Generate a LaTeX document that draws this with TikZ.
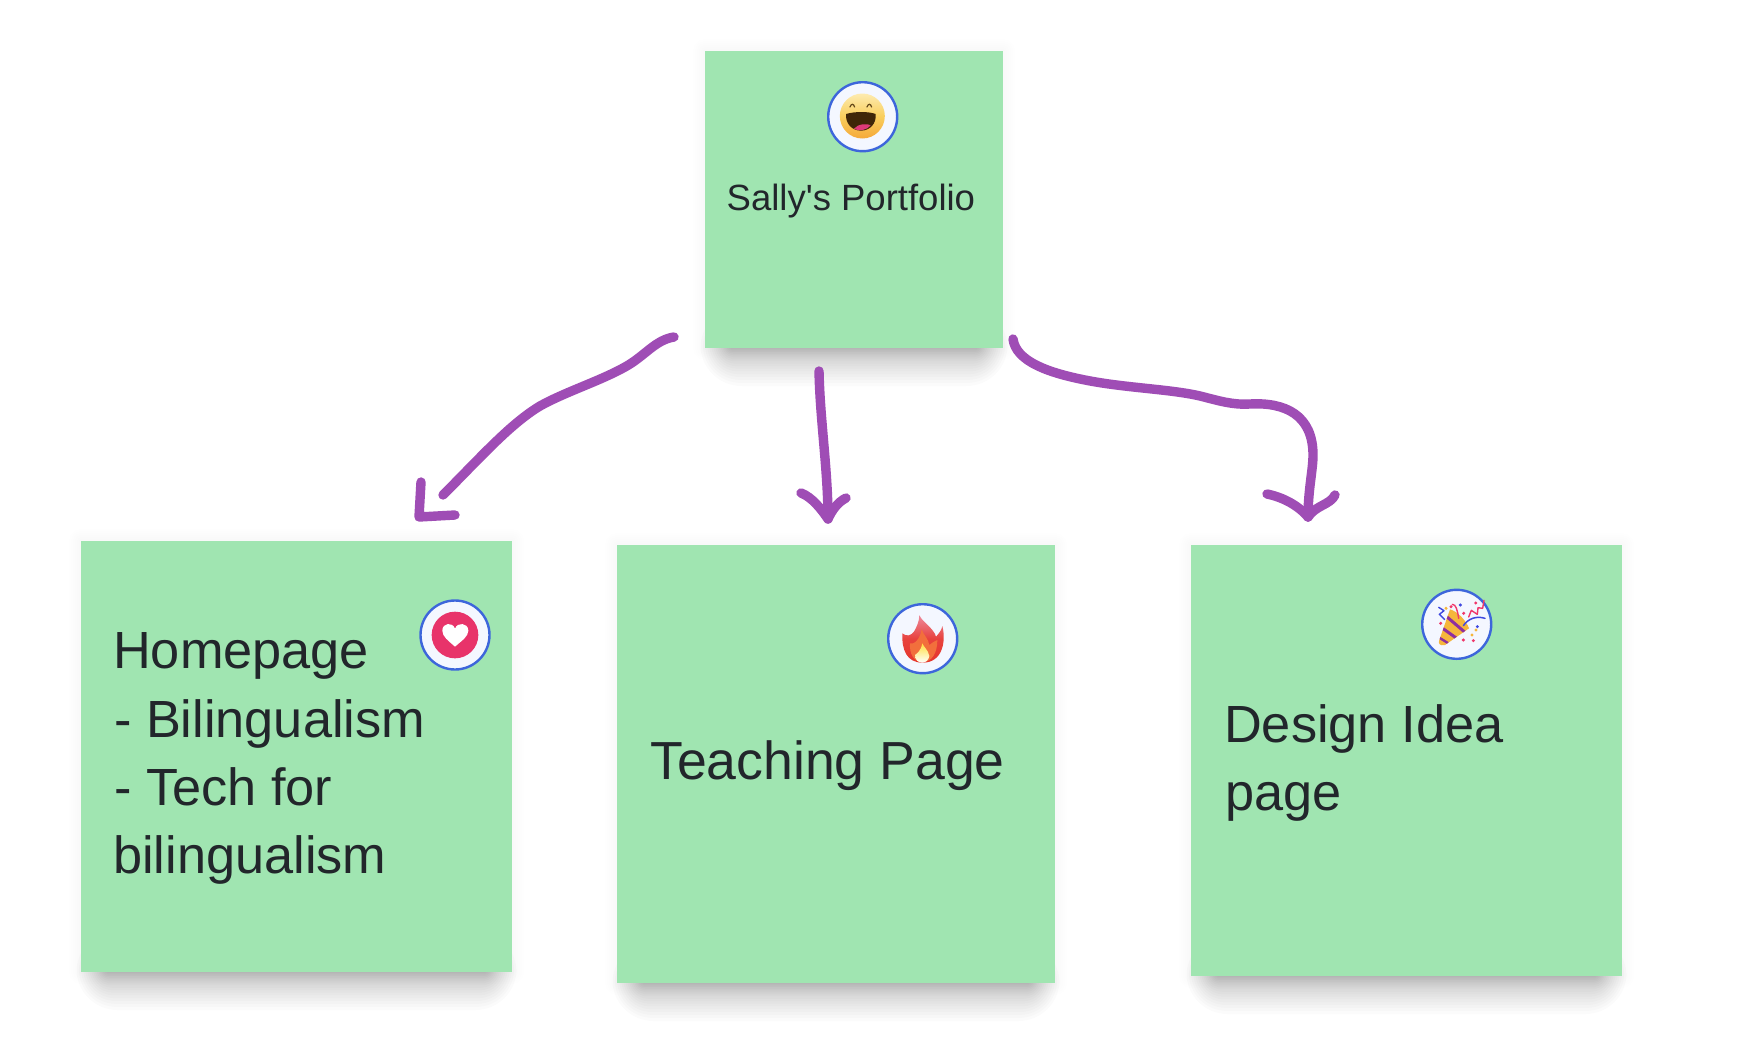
\documentclass[tikz,border=0pt]{standalone}
\usepackage{fontspec}
\setmainfont{Liberation Sans}
\usetikzlibrary{calc}
\definecolor{sticky}{HTML}{A0E5B1}
\definecolor{ink}{HTML}{22262B}
\definecolor{stroke}{HTML}{9F4DB5}
\definecolor{ring}{HTML}{3D66DB}
\definecolor{badgebg}{HTML}{F4F7FF}
\definecolor{FaceTop}{HTML}{FDEBB0}
\definecolor{FaceMid}{HTML}{F9CF5E}
\definecolor{FaceBot}{HTML}{F5A93A}
\definecolor{MouthC}{HTML}{3F2608}
\definecolor{TongueC}{HTML}{DE3A78}
\definecolor{HeartC}{HTML}{E8336A}
\definecolor{FlameTop}{HTML}{EE8A9C}
\definecolor{FlameBot}{HTML}{E6352C}
\definecolor{FlameMid}{HTML}{F26F3C}
\definecolor{FlameYel}{HTML}{FFDF3E}
\definecolor{ConeC}{HTML}{F5B63C}
\definecolor{ConeP}{HTML}{8E2FA0}
\definecolor{ConfB}{HTML}{3F48E0}
\definecolor{ConfP}{HTML}{F0386B}
\tikzset{
  stickybox/.style={fill=sticky,draw=none,inner sep=0pt,anchor=north west},
  txt/.style={inner sep=0pt,anchor=base west,text=ink},
  bigtxt/.style={font=\fontsize{52.3}{68}\selectfont},
  widetxt/.style={font=\fontsize{53.6}{68}\selectfont},
  smalltxt/.style={font=\fontsize{36.5}{42}\selectfont},
  pen/.style={draw=stroke,line width=9.4pt,line cap=round,line join=round},
  badge/.style={circle,fill=badgebg,draw=ring,line width=2.4pt,minimum size=69pt,inner sep=0pt},
  zoomed/.style={x=.33333pt,y=-.33333pt}
}
\newcommand{\softshadow}[4]{%
  \foreach \i in {1,...,6}{
    \fill[black,opacity=.005,rounded corners=2*\i pt]
      (#1-2*\i,#2-2*\i) rectangle (#3+2*\i,#4+2*\i);
  }
  \foreach \i in {1,...,18}{
    \pgfmathsetmacro\rr{38*(\i/18)^1.5}
    \fill[black,opacity=.0155,rounded corners=\rr pt+3pt]
      (#1+24-.75*\rr,#4-\rr-3) rectangle (#3-24+.75*\rr,#4+\rr);
  }}
\begin{document}
\begin{tikzpicture}[x=1pt,y=-1pt]
\useasboundingbox (0,0) rectangle (1752,1044);
\fill[white] (0,0) rectangle (1752,1044);
% shadows
\softshadow{705}{51}{1003}{348}
\softshadow{81}{541}{512}{972}
\softshadow{617}{545}{1055}{983}
\softshadow{1191}{545}{1622}{976}
% stickies
\node[stickybox,minimum width=298pt,minimum height=297pt] (top) at (705,51) {};
\node[stickybox,minimum width=431pt,minimum height=431pt] (home) at (81,541) {};
\node[stickybox,minimum width=438pt,minimum height=438pt] (teach) at (617,545) {};
\node[stickybox,minimum width=431pt,minimum height=431pt] (design) at (1191,545) {};
% texts
\node[txt,smalltxt] (toptext) at (726.5,210) {Sally\textquotesingle s Portfolio};
\node[txt,bigtxt] (h1) at (113,668) {Homepage};
\node[txt,bigtxt] (h2) at (114,737) {- Bilingualism};
\node[txt,bigtxt] (h3) at (114,805) {- Tech for};
\node[txt,bigtxt] (h4) at (113,873) {bilingualism};
\node[txt,widetxt] (teachtext) at (650,779) {Teaching Page};
\node[txt,bigtxt] (d1) at (1224,742) {Design Idea};
\node[txt,bigtxt] (d2) at (1225,810) {page};
% badges
\node[badge] (smile) at (862.7,116.7) {};
\node[badge] (heart) at (455,635) {};
\node[badge] (fire) at (922.7,638.7) {};
\node[badge] (party) at (1456.7,624.3) {};
% smile emoji
\begin{scope}[shift={(780,40)},zoomed]
\shade[top color=FaceTop,bottom color=FaceBot,middle color=FaceMid] (247,228) circle[radius=67.5];
\fill[MouthC] (198,222) .. controls (225,214) and (265,214) .. (287,222)
   .. controls (290,250) and (270,272) .. (243,272) .. controls (215,272) and (196,250) .. (198,222) -- cycle;
\fill[TongueC] (222,266) .. controls (235,250) and (262,250) .. (272,256)
   .. controls (262,270) and (235,276) .. (222,266) -- cycle;
\draw[MouthC!80!FaceMid,line width=1.2pt,line cap=round] (210,201) .. controls (214,190) and (220,190) .. (224,201);
\draw[MouthC!80!FaceMid,line width=1.2pt,line cap=round] (261,201) .. controls (265,190) and (271,190) .. (275,201);
\end{scope}
% heart emoji
\begin{scope}[shift={(380,580)},zoomed]
\fill[HeartC] (225,165) circle[radius=70];
\fill[white] (225,200) .. controls (205,182) and (187,170) .. (187,152)
  .. controls (187,128) and (218,125) .. (225,146)
  .. controls (232,125) and (265,128) .. (265,152)
  .. controls (265,170) and (245,182) .. (225,200) -- cycle;
\end{scope}
% fire emoji
\begin{scope}[shift={(860,590)},zoomed]
\shade[top color=FlameTop,bottom color=FlameBot,middle color=FlameBot!85!FlameTop]
  (178,75) .. controls (185,95) and (222,115) .. (228,140)
  .. controls (237,130) and (245,120) .. (247,108)
  .. controls (258,150) and (250,218) .. (188,218)
  .. controls (140,218) and (125,180) .. (127,130)
  .. controls (140,142) and (155,135) .. (162,125)
  .. controls (170,110) and (178,95) .. (178,75) -- cycle;
\fill[FlameMid] (185,118) .. controls (190,135) and (205,145) .. (208,165)
  .. controls (215,160) and (220,155) .. (232,150)
  .. controls (232,190) and (215,216) .. (188,216)
  .. controls (160,216) and (148,190) .. (150,160)
  .. controls (160,165) and (180,150) .. (185,118) -- cycle;
\shade[top color=FlameYel,bottom color=white] (187,160) .. controls (190,170) and (205,180) .. (208,198)
  .. controls (206,212) and (195,218) .. (187,218)
  .. controls (175,218) and (165,210) .. (165,195)
  .. controls (170,190) and (182,185) .. (187,160) -- cycle;
\end{scope}
% party emoji
\begin{scope}[shift={(1400,575)},zoomed]
\begin{scope}
\clip (150,103) .. controls (175,110) and (200,140) .. (207,160) -- (135,210) .. controls (120,214) and (113,205) .. (118,195) -- cycle;
\fill[ConeC] (100,90) rectangle (220,220);
\draw[ConeP,line width=3pt] (140,125) -- (195,172);
\draw[ConeP,line width=3pt] (128,160) -- (170,190);
\draw[ConeP,line width=2.4pt] (118,188) -- (145,205);
\end{scope}
\draw[ConfB,line width=1.4pt,line join=round,line cap=round] (116,97) -- (132,107) -- (118,118) -- (134,134);
\draw[ConfP,line width=1.4pt,line cap=round] (157,88) .. controls (168,88) and (172,105) .. (176,130);
\draw[ConfP,line width=1.4pt,line join=round,line cap=round] (206,126) -- (214,106) -- (232,118) -- (234,98) -- (248,100) -- (252,76);
\draw[ConfB,line width=1.5pt,line cap=round] (190,152) .. controls (205,130) and (230,122) .. (255,130);
\foreach \x/\y/\c in {122/145/ConfP,138/100/ConeC,153/95/ConfP,181/90/ConfB,191/115/ConfP,227/84/ConfP,232/155/ConfB,228/165/ConeC,216/180/ConeC,190/195/ConfP,220/197/ConfP}
  \fill[\c] (\x,\y) circle[radius=5];
\end{scope}
% arrows
\coordinate (a1s) at (674,337); \coordinate (a1e) at (443,495);
\coordinate (a1l) at (421,482); \coordinate (a1t) at (419,517); \coordinate (a1r) at (455,515);
\draw[pen] (a1s) .. controls (655,340) and (645,356) .. (625,367)
  .. controls (600,381) and (565,392) .. (540,406)
  .. controls (510,424) and (480,458) .. (a1e);
\draw[pen] (a1l) -- (a1t) -- (a1r);
\coordinate (a2s) at (819,371); \coordinate (a2e) at (828,519);
\coordinate (a2l) at (801,493); \coordinate (a2r) at (846,498);
\draw[pen] (a2s) .. controls (820,420) and (828,470) .. (a2e);
\draw[pen] (a2l) .. controls (812,497) and (822,510) .. (a2e) .. controls (832,510) and (838,502) .. (a2r);
\coordinate (a3s) at (1013,339); \coordinate (a3e) at (1308,517);
\coordinate (a3l) at (1267,494); \coordinate (a3r) at (1335,495);
\draw[pen] (a3s) .. controls (1016,362) and (1050,373) .. (1085,380)
  .. controls (1125,388) and (1170,389) .. (1200,396)
  .. controls (1220,401) and (1232,405) .. (1250,404)
  .. controls (1285,402) and (1313,415) .. (1313,455)
  .. controls (1313,470) and (1308,490) .. (a3e);
\draw[pen] (a3l) .. controls (1282,497) and (1298,505) .. (a3e);
\draw[pen] (a3e) .. controls (1316,505) and (1330,505) .. (a3r);
\end{tikzpicture}
\end{document}
